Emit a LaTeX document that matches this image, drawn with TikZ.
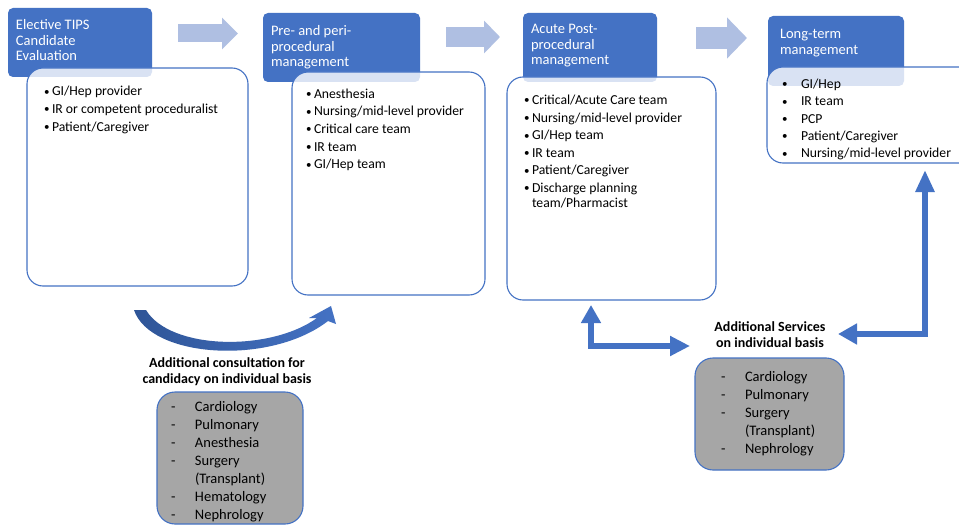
\documentclass[tikz,border=0pt]{standalone}
\usepackage{fontspec}
\setmainfont{Carlito}
\usetikzlibrary{arrows.meta}
\definecolor{hblue}{HTML}{4472C4}
\definecolor{larrow}{HTML}{AFBFE2}
\definecolor{gbox}{HTML}{A6A6A6}
\definecolor{dblue}{HTML}{2F5597}
\newcommand{\sbul}{\raisebox{0.6pt}{\fontsize{11}{11}\selectfont\textbullet}}
\newcommand{\bul}{\makebox[8pt][l]{\sbul}}
\newcommand{\bulw}{\makebox[19pt][l]{\sbul}}
\newcommand{\dsh}{\makebox[24pt][l]{-}}
\begin{document}
\begin{tikzpicture}[x=1pt,y=-1pt,
  every node/.style={inner sep=0pt, outer sep=0pt},
  hdr/.style={fill=hblue, rounded corners=5pt, anchor=north west},
  body/.style={draw=hblue, line width=1.1pt, fill=white, fill opacity=0.8, rounded corners=16pt, anchor=north west},
  gray/.style={draw=hblue, line width=1.1pt, fill=gbox, rounded corners=18pt, anchor=north west},
  hdrtxt/.style={text=white, font=\fontsize{14.5}{15.5}\selectfont, align=left, anchor=north west},
  listtxt/.style={font=\fontsize{13.7}{15}\selectfont, align=left, anchor=north west},
  graytxt/.style={font=\fontsize{14.5}{18}\selectfont, align=left, anchor=north west},
  boldtxt/.style={font=\bfseries\fontsize{14}{16.5}\selectfont, align=center, anchor=north},
  light/.style={draw=larrow},
  elbow/.style={draw=hblue}
]
\clip (0,0) rectangle (959,527);
\fill[white] (0,0) rectangle (959,527);

% headers
\node[hdr, minimum width=144pt, minimum height=69pt] (h1) at (8,8) {};
\node[hdr, minimum width=157pt, minimum height=69pt] (h2) at (263,13) {};
\node[hdr, minimum width=134pt, minimum height=69pt] (h3) at (523,13) {};
\node[hdr, minimum width=136pt, minimum height=70pt] (h4) at (768,16) {};

\node[hdrtxt] (h1t) at (16,19.6) {Elective TIPS\\Candidate\\Evaluation};
\node[hdrtxt] (h2t) at (271,25.6) {Pre- and peri-\\procedural\\management};
\node[hdrtxt] (h3t) at (531,24.6) {Acute Post-\\procedural\\management};
\node[hdrtxt] (h4t) at (780,29.6) {Long-term\\management};

% bodies
\node[body, minimum width=221pt, minimum height=218pt] (b1) at (27,68) {};
\node[body, minimum width=193pt, minimum height=223pt] (b2) at (292,72) {};
\node[body, minimum width=209pt, minimum height=223pt] (b3) at (507,77) {};
\node[body, minimum width=230pt, minimum height=96pt] (b4) at (767,67) {};

\node[listtxt] (b1t) at (44,86.3) {\bul GI/Hep provider\\[2.6pt]\bul IR or competent proceduralist\\[2.6pt]\bul Patient/Caregiver};
\node[listtxt] (b2t) at (306,88.8) {\bul Anesthesia\\[2.6pt]\bul Nursing/mid-level provider\\[2.6pt]\bul Critical care team\\[2.6pt]\bul IR team\\[2.6pt]\bul GI/Hep team};
\node[listtxt] (b3t) at (524,95) {\bul Critical/Acute Care team\\[2.6pt]\bul Nursing/mid-level provider\\[2.6pt]\bul GI/Hep team\\[2.6pt]\bul IR team\\[2.6pt]\bul Patient/Caregiver\\[2.6pt]\bul Discharge planning\\\hspace*{8pt}team/Pharmacist};
\node[listtxt] (b4t) at (782,79) {\bulw GI/Hep\\[2.3pt]\bulw IR team\\[2.3pt]\bulw PCP\\[2.3pt]\bulw Patient/Caregiver\\[2.3pt]\bulw Nursing/mid-level provider};

% light arrows between stages
\coordinate (a1s) at (178,33.5); \coordinate (a1e) at (238,33.5);
\coordinate (a2s) at (446,37); \coordinate (a2e) at (500,37);
\coordinate (a3s) at (696,38); \coordinate (a3e) at (747,38);
\draw[light, line width=18pt, -{Triangle[width=31pt,length=16pt]}] (a1s) -- (a1e);
\draw[light, line width=20pt, -{Triangle[width=32pt,length=16pt]}] (a2s) -- (a2e);
\draw[light, line width=22pt, -{Triangle[width=40pt,length=20pt]}] (a3s) -- (a3e);

% curved arrow
\shade[left color=dblue, right color=hblue]
  (134,310) -- (146,310) .. controls (170,350) and (270,352) .. (317,318)
  -- (309,318) -- (331,306) -- (336,324) -- (328,321)
  .. controls (270,366) and (150,358) .. (134,310) -- cycle;

% labels
\node[boldtxt] (l1) at (227,357.5) {Additional consultation for\\candidacy on individual basis};
\node[boldtxt] (l2) at (770,321.5) {Additional Services\\on individual basis};

% gray boxes
\node[gray, minimum width=146pt, minimum height=132pt] (g1) at (157,392) {};
\node[gray, minimum width=149pt, minimum height=112pt] (g2) at (695,358) {};
\node[graytxt] (g1t) at (171,401) {\dsh Cardiology\\\dsh Pulmonary\\\dsh Anesthesia\\\dsh Surgery\\\hspace*{24pt}(Transplant)\\\dsh Hematology\\\dsh Nephrology};
\node[graytxt] (g2t) at (721,371) {\dsh Cardiology\\\dsh Pulmonary\\\dsh Surgery\\\hspace*{24pt}(Transplant)\\\dsh Nephrology};

% elbow arrows
\coordinate (e1a) at (591,305); \coordinate (e1b) at (690,346);
\coordinate (e2a) at (925,170); \coordinate (e2b) at (838,334);
\draw[elbow, line width=6.5pt, {Triangle[width=19pt,length=18pt]}-{Triangle[width=19pt,length=20pt]}] (e1a) |- (e1b);
\draw[elbow, line width=5.5pt, {Triangle[width=18pt,length=22pt]}-{Triangle[width=20pt,length=19pt]}] (e2a) |- (e2b);
\end{tikzpicture}
\end{document}
